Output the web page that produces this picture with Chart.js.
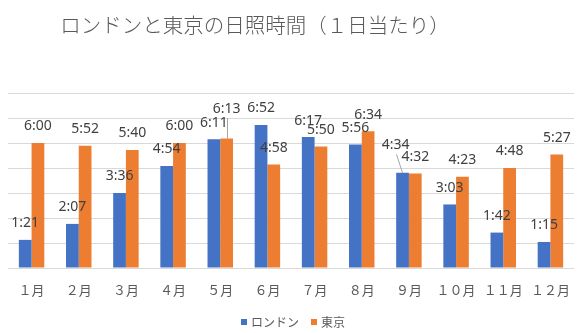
<!DOCTYPE html>
<html><head><meta charset="utf-8">
<script src="https://cdn.jsdelivr.net/npm/chart.js@4"></script>
<style>html,body{margin:0;padding:0;background:#fff}canvas{display:block}</style>
</head><body>
<canvas id="c" width="586" height="333"></canvas>
<script>
const title = 'ロンドンと東京の日照時間（１日当たり）';
const categories = ['１月','２月','３月','４月','５月','６月','７月','８月','９月','１０月','１１月','１２月'];
const seriesNames = ['ロンドン','東京'];
const londonTimes = ['1:21','2:07','3:36','4:54','6:11','6:52','6:17','5:56','4:34','3:03','1:42','1:15'];
const tokyoTimes  = ['6:00','5:52','5:40','6:00','6:13','4:58','5:50','6:34','4:32','4:23','4:48','5:27'];

const toMin = s => { const [h,m] = s.split(':').map(Number); return h*60+m; };
const labelsBySet = [londonTimes, tokyoTimes];

const titlePlugin = {
  id:'customTitle',
  afterDraw(chart){
    const ctx = chart.ctx; ctx.save();
    ctx.font = '300 20.5px "Noto Sans CJK JP"';
    ctx.fillStyle = '#595959'; ctx.textAlign='center'; ctx.textBaseline='middle';
    ctx.fillText(title, 255, 25);
    ctx.restore();
  }
};
const legendPlugin = {
  id:'customLegend',
  afterDraw(chart){
    const ctx = chart.ctx; ctx.save();
    ctx.font = '12px "Noto Sans CJK JP"';
    ctx.textBaseline = 'middle'; ctx.textAlign = 'left';
    const box = 6, gapText = 4, gapItem = 12, cy = 322;
    const items = chart.data.datasets.map(d => ({text:d.label, color:d.backgroundColor, w: ctx.measureText(d.label).width}));
    const total = items.reduce((s,it)=>s+box+gapText+it.w,0) + gapItem*(items.length-1);
    let x = 293 - total/2;
    items.forEach(it => {
      ctx.fillStyle = it.color; ctx.fillRect(Math.round(x), cy - box/2, box, box);
      x += box + gapText;
      ctx.fillStyle = '#595959'; ctx.fillText(it.text, x, cy);
      x += it.w + gapItem;
    });
    ctx.restore();
  }
};
const labelPlugin = {
  id:'barLabels',
  afterDatasetsDraw(chart, args, opts){
    const ctx = chart.ctx; ctx.save();
    ctx.font = '14px "Noto Sans"';
    ctx.fillStyle = '#404040'; ctx.textAlign='center'; ctx.textBaseline='middle';
    chart.data.datasets.forEach((ds, di) => {
      chart.getDatasetMeta(di).data.forEach((bar, i) => {
        const off = (opts.offsets[di] && opts.offsets[di][i]) || [0,0];
        const x = bar.x + off[0], y = bar.y - 16.5 + off[1];
        if (off[0] || off[1]) {
          ctx.strokeStyle = '#a6a6a6'; ctx.lineWidth = 1;
          ctx.beginPath();
          ctx.moveTo(Math.round(x)+0.5, y + 9);
          ctx.lineTo(Math.round(bar.x + (off[0] ? -1 : 0))+0.5, bar.y);
          ctx.stroke();
        }
        ctx.fillText(labelsBySet[di][i], x, y);
      });
    });
    ctx.restore();
  }
};

new Chart(document.getElementById('c'), {
  type:'bar',
  data:{
    labels: categories,
    datasets:[
      {label: seriesNames[0], data: londonTimes.map(toMin), backgroundColor:'#4472C4'},
      {label: seriesNames[1], data: tokyoTimes.map(toMin), backgroundColor:'#ED7D31'}
    ]
  },
  options:{
    responsive:false, animation:false,
    layout:{padding:{top:93, left:8, right:12, bottom:0}},
    datasets:{bar:{categoryPercentage:0.54, barPercentage:1}},
    scales:{
      x:{grid:{display:false, drawTicks:false}, border:{display:false},
         afterFit(s){ s.height = 65; },
         ticks:{padding:14, color:'#595959', font:{family:'"Noto Sans CJK JP"', size:13}}},
      y:{min:0, max:504, ticks:{display:false, stepSize:72}, border:{display:false},
         grid:{color:'#d9d9d9', drawTicks:false}}
    },
    plugins:{
      legend:{display:false},
      tooltip:{enabled:false},
      barLabels:{offsets:{0:{8:[-7,-11]}, 1:{4:[0,-13]}}}
    }
  },
  plugins:[titlePlugin, legendPlugin, labelPlugin]
});
</script>
</body></html>
